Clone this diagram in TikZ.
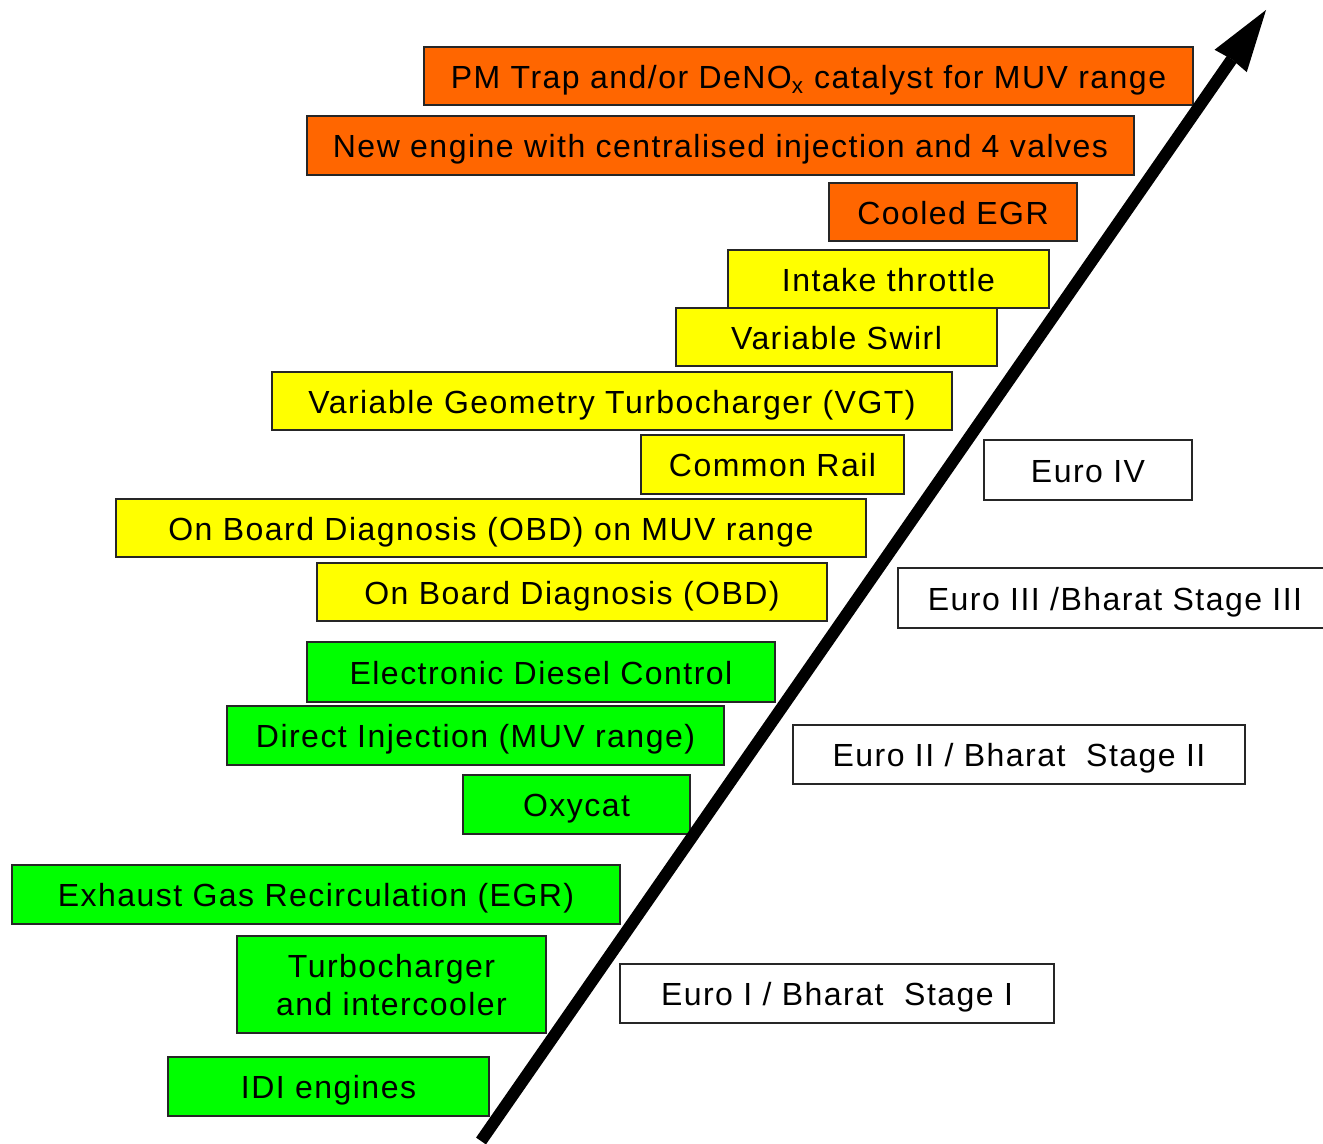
\documentclass[tikz,border=0pt]{standalone}
\usepackage{fontspec}
\setmainfont{Liberation Sans}[LetterSpace=4.6]
\usetikzlibrary{arrows.meta}
\definecolor{orng}{HTML}{FF6600}
\definecolor{yllw}{HTML}{FFFF00}
\definecolor{grn}{HTML}{00FF00}
\begin{document}
\begin{tikzpicture}[x=0.75pt,y=-0.75pt,
  box/.style={draw=black!85, line width=1.1pt, inner sep=0pt, outer sep=0pt,
    text height=18.7pt, text depth=0pt, font=\fontsize{24pt}{28.5pt}\selectfont},
  bx/.style n args={4}{minimum width={(#3-#1)*0.75pt}, minimum height={(#4-#2)*0.75pt},
    at={({(#1+#3)/2},{(#2+#4)/2})}},
  obox/.style={box, fill=orng},
  ybox/.style={box, fill=yllw},
  gbox/.style={box, fill=grn},
  wbox/.style={box, fill=white},
  prog/.style={line width=9pt, -{Stealth[length=46.5pt,width=29.4pt,inset=1.5pt,line width=0pt]}}]
\useasboundingbox (0,0) rectangle (1323,1144);
% orange
\node[obox, bx={424}{47}{1193}{105}] (pm) {PM Trap and/or DeNO\textsubscript{x} catalyst for MUV range};
\node[obox, bx={307}{116}{1134}{175}] (neweng) {New engine with centralised injection and 4 valves};
\node[obox, bx={829}{183}{1077}{241}] (cegr) {Cooled EGR};
% yellow
\node[ybox, bx={728}{250}{1049}{308}] (intake) {Intake throttle};
\node[ybox, bx={676}{308}{997}{366}] (swirl) {Variable Swirl};
\node[ybox, bx={272}{372}{952}{430}] (vgt) {Variable Geometry Turbocharger (VGT)};
\node[ybox, bx={641}{435}{904}{494}] (crail) {Common Rail};
\node[ybox, bx={116}{499}{866}{557}] (obdmuv) {On Board Diagnosis (OBD) on MUV range};
\node[ybox, bx={317}{563}{827}{621}] (obd) {On Board Diagnosis (OBD)};
% green
\node[gbox, bx={307}{642}{775}{702}] (edc) {Electronic Diesel Control};
\node[gbox, bx={227}{706}{724}{765}] (di) {Direct Injection (MUV range)};
\node[gbox, bx={463}{775}{690}{834}] (oxy) {Oxycat};
\node[gbox, bx={12}{865}{620}{924}] (egr) {Exhaust Gas Recirculation (EGR)};
\node[gbox, bx={237}{936}{546}{1033}, text height=17.6pt, text depth=28.5pt] (turbo) {\begin{tabular}[t]{@{}c@{}}Turbocharger\\ and intercooler\end{tabular}};
\node[gbox, bx={168}{1057}{489}{1116}] (idi) {IDI engines};
% white
\node[wbox, bx={984}{440}{1192}{500}] (euro4) {Euro IV};
\node[wbox, bx={898}{568}{1332}{628}] (euro3) {Euro III /Bharat Stage III};
\node[wbox, bx={793}{725}{1245}{784}] (euro2) {Euro II / Bharat\ \ Stage II};
\node[wbox, bx={620}{964}{1054}{1023}] (euro1) {Euro I / Bharat\ \ Stage I};
% arrow
\coordinate (astart) at (481,1141);
\coordinate (aend) at (1266,10);
\draw[prog] (astart) -- (aend);
\end{tikzpicture}
\end{document}
